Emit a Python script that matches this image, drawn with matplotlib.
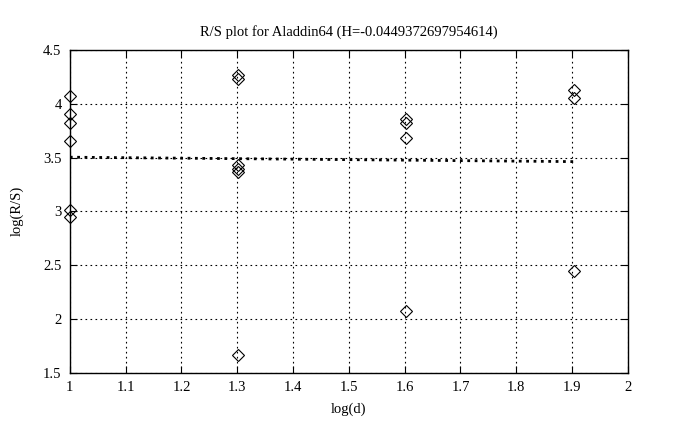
import matplotlib
matplotlib.use('Agg')
import matplotlib.pyplot as plt
import numpy as np

# log(d) values and log(R/S) samples at each one
x_pts = [1.0, 1.0, 1.0, 1.0, 1.0, 1.0,
         1.301, 1.301, 1.301, 1.301, 1.301, 1.301,
         1.602, 1.602, 1.602, 1.602,
         1.903, 1.903, 1.903]
y_pts = [4.07, 3.90, 3.82, 3.65, 3.01, 2.95,
         4.27, 4.23, 3.43, 3.39, 3.37, 1.67,
         3.86, 3.82, 3.68, 2.07,
         4.13, 4.05, 2.45]

# fitted line
fit_x = [1.0, 1.903]
fit_y = [3.503, 3.462]

title = "R/S plot for Aladdin64 (H=-0.0449372697954614)"

plt.rcParams['font.family'] = ['Liberation Serif', 'DejaVu Serif']
plt.rcParams['font.size'] = 10.5

fig = plt.figure(figsize=(6.78, 4.30), dpi=100)
ax = fig.add_axes([0.103, 0.133, 0.823, 0.751])

ax.plot(x_pts, y_pts, linestyle='none', marker='D', markersize=6,
        markerfacecolor='none', markeredgecolor='black', markeredgewidth=0.8,
        clip_on=False, zorder=3)
ax.plot(fit_x, fit_y, color='black', linestyle=':', linewidth=2)

ax.set_xlim(1, 2)
ax.set_ylim(1.5, 4.5)
ax.set_xticks(np.arange(1, 2.01, 0.1))
ax.set_xticklabels(['1', '1.1', '1.2', '1.3', '1.4', '1.5', '1.6', '1.7', '1.8', '1.9', '2'])
ax.set_yticks([1.5, 2, 2.5, 3, 3.5, 4, 4.5])
ax.set_yticklabels(['1.5', '2', '2.5', '3', '3.5', '4', '4.5'])
ax.grid(True, color='black', linestyle=(0, (1.5, 3)), linewidth=0.8)
ax.tick_params(direction='in', top=True, right=True, length=5, width=0.8, pad=6)
for s in ax.spines.values():
    s.set_linewidth(1)

ax.set_title(title, fontsize=10.5, pad=10)
ax.set_xlabel('log(d)', labelpad=6)
ax.set_ylabel('log(R/S)', labelpad=14)

plt.savefig('out.png', dpi=100)
